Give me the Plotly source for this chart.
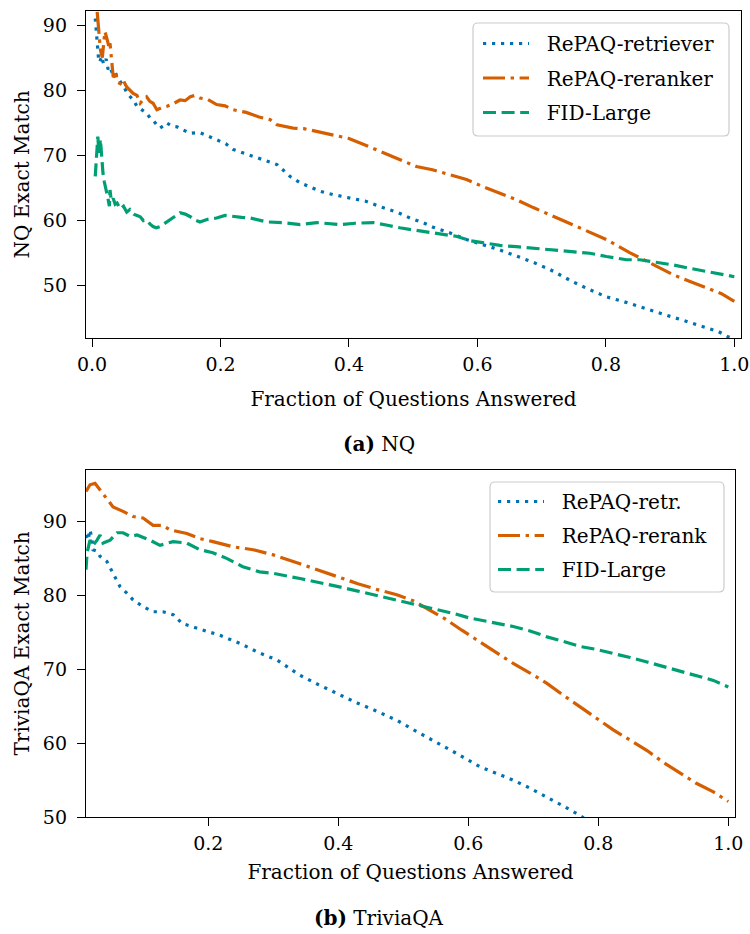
import plotly.graph_objects as go

# ---------------- data ----------------
nq_x_retr = [0.005, 0.008, 0.010, 0.012, 0.015, 0.018, 0.022, 0.025, 0.028, 0.032, 0.036, 0.039,
             0.045, 0.05, 0.054, 0.06, 0.065, 0.07, 0.078, 0.085, 0.09, 0.095, 0.1, 0.106, 0.112,
             0.116, 0.124, 0.132, 0.142, 0.153, 0.168, 0.18, 0.194, 0.208, 0.22, 0.235, 0.25, 0.27,
             0.288, 0.297, 0.308, 0.324, 0.34, 0.355, 0.375, 0.40, 0.425, 0.453, 0.475, 0.495,
             0.515, 0.531, 0.555, 0.583, 0.61, 0.635, 0.66, 0.687, 0.713, 0.749, 0.775, 0.801,
             0.827, 0.853, 0.88, 0.905, 0.93, 0.956, 0.975, 0.99, 1.0]
nq_y_retr = [91.0, 87.5, 85.0, 84.3, 85.2, 84.0, 84.8, 83.2, 83.6, 82.5, 82.8, 82.0,
             81.2, 80.5, 79.6, 79.0, 78.4, 77.5, 77.0, 76.5, 75.8, 75.4, 74.8, 74.2, 74.6,
             75.0, 74.5, 74.4, 73.9, 73.4, 73.5, 73.0, 72.4, 71.8, 70.9, 70.4, 69.9, 69.2,
             68.6, 67.8, 66.8, 65.8, 65.1, 64.5, 64.0, 63.5, 63.0, 62.0, 61.3, 60.4,
             59.7, 59.0, 58.2, 57.1, 56.3, 55.5, 54.6, 53.6, 52.5, 50.6, 49.4, 48.3,
             47.6, 46.8, 45.9, 45.1, 44.4, 43.6, 43.0, 42.2, 42.0]

nq_x_rerank = [0.008, 0.011, 0.013, 0.016, 0.018, 0.02, 0.023, 0.026, 0.028, 0.031, 0.033, 0.037,
               0.04, 0.044, 0.048, 0.054, 0.059, 0.064, 0.07, 0.075, 0.08, 0.085, 0.09, 0.095,
               0.101, 0.108, 0.116, 0.126, 0.137, 0.145, 0.153, 0.16, 0.168, 0.18, 0.194, 0.207,
               0.22, 0.24, 0.26, 0.277, 0.288, 0.313, 0.33, 0.35, 0.375, 0.40, 0.425, 0.453,
               0.48, 0.505, 0.53, 0.557, 0.583, 0.609, 0.635, 0.661, 0.687, 0.713, 0.749, 0.775,
               0.801, 0.837, 0.868, 0.905, 0.93, 0.956, 0.98, 1.0]
nq_y_rerank = [92.0, 88.8, 86.2, 85.0, 87.5, 89.0, 88.0, 86.8, 87.2, 84.5, 82.0, 82.5,
               81.2, 81.0, 81.6, 80.5, 80.0, 79.5, 79.2, 78.0, 78.6, 79.0, 78.3, 78.0,
               77.0, 77.3, 77.5, 77.9, 78.5, 78.4, 79.0, 79.2, 78.8, 78.6, 77.8, 77.6,
               77.0, 76.6, 75.9, 75.5, 74.7, 74.2, 74.1, 73.7, 73.1, 72.6, 71.6, 70.4,
               69.3, 68.3, 67.8, 67.0, 66.3, 65.2, 64.2, 63.2, 62.0, 60.9, 59.4, 58.2,
               57.1, 55.1, 53.6, 51.7, 50.7, 49.7, 48.8, 47.6]

nq_x_fid = [0.005, 0.007, 0.009, 0.010, 0.011, 0.013, 0.015, 0.017, 0.019, 0.021, 0.023, 0.025,
            0.027, 0.028, 0.030, 0.033, 0.036, 0.039, 0.044, 0.049, 0.054, 0.059, 0.065, 0.07,
            0.075, 0.08, 0.085, 0.09, 0.095, 0.1, 0.106, 0.112, 0.121, 0.13, 0.137, 0.145,
            0.153, 0.16, 0.168, 0.18, 0.194, 0.207, 0.22, 0.233, 0.246, 0.26, 0.272, 0.297,
            0.324, 0.35, 0.386, 0.41, 0.438, 0.46, 0.479, 0.505, 0.531, 0.567, 0.59, 0.609,
            0.635, 0.661, 0.687, 0.713, 0.749, 0.775, 0.801, 0.832, 0.853, 0.88, 0.905, 0.93,
            0.956, 0.98, 1.0]
nq_y_fid = [66.8, 70.0, 72.9, 71.5, 70.4, 72.5, 68.9, 67.3, 66.0, 64.8, 64.2, 63.3,
            62.2, 64.7, 63.0, 63.4, 62.5, 62.7, 61.8, 62.2, 61.3, 61.7, 61.0, 60.8,
            60.6, 60.0, 60.1, 59.5, 59.1, 58.9, 59.1, 59.5, 60.1, 60.7, 61.2, 61.0,
            60.6, 60.1, 59.8, 60.2, 60.4, 60.8, 60.6, 60.5, 60.4, 60.1, 59.8, 59.7,
            59.4, 59.7, 59.4, 59.6, 59.7, 59.3, 58.9, 58.5, 58.1, 57.6, 56.9, 56.6,
            56.2, 56.0, 55.8, 55.5, 55.3, 55.0, 54.5, 54.0, 54.0, 53.6, 53.2, 52.7,
            52.2, 51.8, 51.4]

tq_x_retr = [0.0118, 0.015, 0.018, 0.021, 0.0226, 0.029, 0.0334, 0.044, 0.0534, 0.0643, 0.075,
             0.0843, 0.0995, 0.115, 0.130, 0.146, 0.160, 0.187, 0.218, 0.249, 0.279, 0.305,
             0.341, 0.37, 0.40, 0.43, 0.46, 0.49, 0.52, 0.55, 0.58, 0.618, 0.644, 0.669,
             0.695, 0.721, 0.746, 0.772, 0.78]
tq_y_retr = [88.2, 87.5, 88.9, 87.6, 86.2, 86.0, 85.3, 84.6, 83.0, 81.2, 80.3,
             79.4, 78.5, 77.8, 77.8, 77.4, 76.2, 75.5, 74.6, 73.5, 72.2, 71.3,
             69.2, 67.9, 66.6, 65.4, 64.3, 63.1, 61.6, 60.2, 58.7, 56.8, 55.9, 55.0,
             53.9, 52.7, 51.5, 50.2, 49.7]

tq_x_rerank = [0.0118, 0.018, 0.0257, 0.0334, 0.044, 0.0534, 0.0688, 0.0843, 0.0995, 0.115,
               0.130, 0.141, 0.167, 0.187, 0.207, 0.238, 0.269, 0.300, 0.341, 0.37, 0.40,
               0.43, 0.46, 0.49, 0.515, 0.54, 0.565, 0.59, 0.618, 0.644, 0.669, 0.695, 0.721,
               0.746, 0.772, 0.797, 0.823, 0.849, 0.875, 0.9, 0.926, 0.95, 0.977, 1.0]
tq_y_rerank = [94.1, 95.0, 95.2, 94.3, 93.2, 92.0, 91.4, 90.7, 90.5, 89.5,
               89.5, 88.9, 88.4, 87.7, 87.3, 86.6, 86.2, 85.5, 84.3, 83.4, 82.5,
               81.6, 80.8, 80.1, 79.3, 78.1, 76.8, 75.3, 73.7, 72.2, 70.8, 69.5, 68.1,
               66.5, 64.9, 63.3, 61.8, 60.4, 59.0, 57.4, 55.9, 54.6, 53.4, 52.1]

tq_x_fid = [0.0118, 0.0135, 0.018, 0.0226, 0.0288, 0.0334, 0.038, 0.049, 0.0597, 0.0688, 0.080,
            0.0903, 0.110, 0.1257, 0.1457, 0.167, 0.187, 0.207, 0.229, 0.253, 0.279, 0.300,
            0.341, 0.37, 0.40, 0.43, 0.46, 0.49, 0.52, 0.55, 0.58, 0.60, 0.618, 0.644, 0.669,
            0.695, 0.721, 0.746, 0.772, 0.797, 0.823, 0.849, 0.875, 0.9, 0.926, 0.95, 0.977, 1.0]
tq_y_fid = [83.5, 85.8, 87.5, 86.8, 87.5, 88.2, 87.1, 87.5, 88.5, 88.5, 88.0,
            88.2, 87.5, 86.8, 87.3, 87.1, 86.2, 85.8, 85.0, 83.9, 83.2, 83.0,
            82.3, 81.8, 81.2, 80.6, 80.0, 79.4, 78.8, 78.1, 77.5, 77.0, 76.7, 76.2, 75.8,
            75.2, 74.4, 73.8, 73.1, 72.7, 72.2, 71.6, 71.0, 70.4, 69.7, 69.1, 68.5, 67.6]

nq_names = ["RePAQ-retriever", "RePAQ-reranker", "FID-Large"]
tq_names = ["RePAQ-retr.", "RePAQ-rerank", "FID-Large"]
x_ticks_nq = [0.0, 0.2, 0.4, 0.6, 0.8, 1.0]
x_ticks_tq = [0.2, 0.4, 0.6, 0.8, 1.0]
y_ticks = [50, 60, 70, 80, 90]

# ---------------- styling ----------------
W, H = 750, 934
FONT = "DejaVu Serif"
BLUE, ORANGE, GREEN = "#0072B2", "#D55E00", "#009E73"
LW = 3.2
DOT = "3.2px,5.8px"
DASH = "13px,5.6px"
DASHDOT = "22px,5.6px,3.4px,5.6px"
PAD = "\u00a0\u00a0"


def px(xp):
    return xp / W


def py(yp):
    return 1 - yp / H


def rounded_box(x0, y0, x1, y1, r=5):
    X0, X1 = px(x0), px(x1)
    Y0, Y1 = py(y0), py(y1)
    rx, ry = r / W, r / H
    return (f"M{X0+rx},{Y0} L{X1-rx},{Y0} Q{X1},{Y0} {X1},{Y0-ry} "
            f"L{X1},{Y1+ry} Q{X1},{Y1} {X1-rx},{Y1} L{X0+rx},{Y1} "
            f"Q{X0},{Y1} {X0},{Y1+ry} L{X0},{Y0-ry} Q{X0},{Y0} {X0+rx},{Y0} Z")


fig = go.Figure()

series_nq = [(nq_x_retr, nq_y_retr, BLUE, DOT),
             (nq_x_rerank, nq_y_rerank, ORANGE, DASHDOT),
             (nq_x_fid, nq_y_fid, GREEN, DASH)]
for (xs, ys, c, d), name in zip(series_nq, nq_names):
    fig.add_trace(go.Scatter(x=xs, y=ys, mode="lines", name=PAD + name,
                             line=dict(color=c, width=LW, dash=d),
                             xaxis="x", yaxis="y", legend="legend",
                             legendgroup="a" + name))

series_tq = [(tq_x_retr, tq_y_retr, BLUE, DOT),
             (tq_x_rerank, tq_y_rerank, ORANGE, DASHDOT),
             (tq_x_fid, tq_y_fid, GREEN, DASH)]
for (xs, ys, c, d), name in zip(series_tq, tq_names):
    fig.add_trace(go.Scatter(x=xs, y=ys, mode="lines", name=PAD + name,
                             line=dict(color=c, width=LW, dash=d),
                             xaxis="x2", yaxis="y2", legend="legend2",
                             legendgroup="b" + name))

axis_common = dict(showline=True, mirror=True, linecolor="black", linewidth=1.3,
                   ticks="outside", ticklen=8, tickwidth=1.3, tickcolor="black",
                   showgrid=False, zeroline=False, automargin=False,
                   tickfont=dict(family=FONT, size=19, color="black"))

fig.update_layout(
    width=W, height=H,
    margin=dict(l=0, r=0, t=0, b=0, pad=0),
    paper_bgcolor="white", plot_bgcolor="white",
    font=dict(family=FONT, size=20, color="black"),
    showlegend=True,
    xaxis=dict(domain=[px(86), px(741)], range=[-0.0094, 1.0104],
               tickvals=x_ticks_nq, tickformat=".1f", anchor="y", ticklabelstandoff=1,
               title=dict(text="Fraction of Questions Answered", standoff=18,
                          font=dict(family=FONT, size=20)),
               **axis_common),
    yaxis=dict(domain=[py(338), py(11)], range=[42.0, 92.15], tickvals=y_ticks,
               anchor="x", ticklabelstandoff=6,
               title=dict(text="NQ Exact Match", standoff=7,
                          font=dict(family=FONT, size=20)),
               **axis_common),
    xaxis2=dict(domain=[px(86), px(735)], range=[0.0118, 1.0103],
                tickvals=x_ticks_tq, tickformat=".1f", anchor="y2", ticklabelstandoff=1,
                title=dict(text="Fraction of Questions Answered", standoff=12,
                           font=dict(family=FONT, size=20)),
                **axis_common),
    yaxis2=dict(domain=[py(817), py(470)], range=[50, 97], tickvals=y_ticks,
                anchor="x2", ticklabelstandoff=6,
                title=dict(text="TriviaQA Exact Match", standoff=7,
                           font=dict(family=FONT, size=20)),
                **axis_common),
    legend=dict(x=px(478), y=py(24), xanchor="left", yanchor="top",
                bgcolor="rgba(0,0,0,0)", borderwidth=0, itemwidth=46,
                tracegroupgap=5.5, font=dict(family=FONT, size=20)),
    legend2=dict(x=px(493), y=py(482), xanchor="left", yanchor="top",
                 bgcolor="rgba(0,0,0,0)", borderwidth=0, itemwidth=46,
                 tracegroupgap=5, font=dict(family=FONT, size=20)),
    shapes=[
        dict(type="path", xref="paper", yref="paper", layer="above",
             path=rounded_box(473, 23, 729, 136),
             fillcolor="rgba(255,255,255,0.8)", line=dict(color="#cccccc", width=1.2)),
        dict(type="path", xref="paper", yref="paper", layer="above",
             path=rounded_box(490, 482, 724, 592),
             fillcolor="rgba(255,255,255,0.8)", line=dict(color="#cccccc", width=1.2)),
    ],
    annotations=[
        dict(text="<b>(a)</b> NQ", x=px(379), y=py(444), xref="paper", yref="paper",
             showarrow=False, xanchor="center", yanchor="middle",
             font=dict(family=FONT, size=20, color="black")),
        dict(text="<b>(b)</b> TriviaQA", x=px(379), y=py(918), xref="paper", yref="paper",
             showarrow=False, xanchor="center", yanchor="middle",
             font=dict(family=FONT, size=20, color="black")),
    ],
)

fig.write_html("out.html",
               config={"displayModeBar": False},
               post_script="document.body.style.margin='0';document.body.style.padding='0';")
